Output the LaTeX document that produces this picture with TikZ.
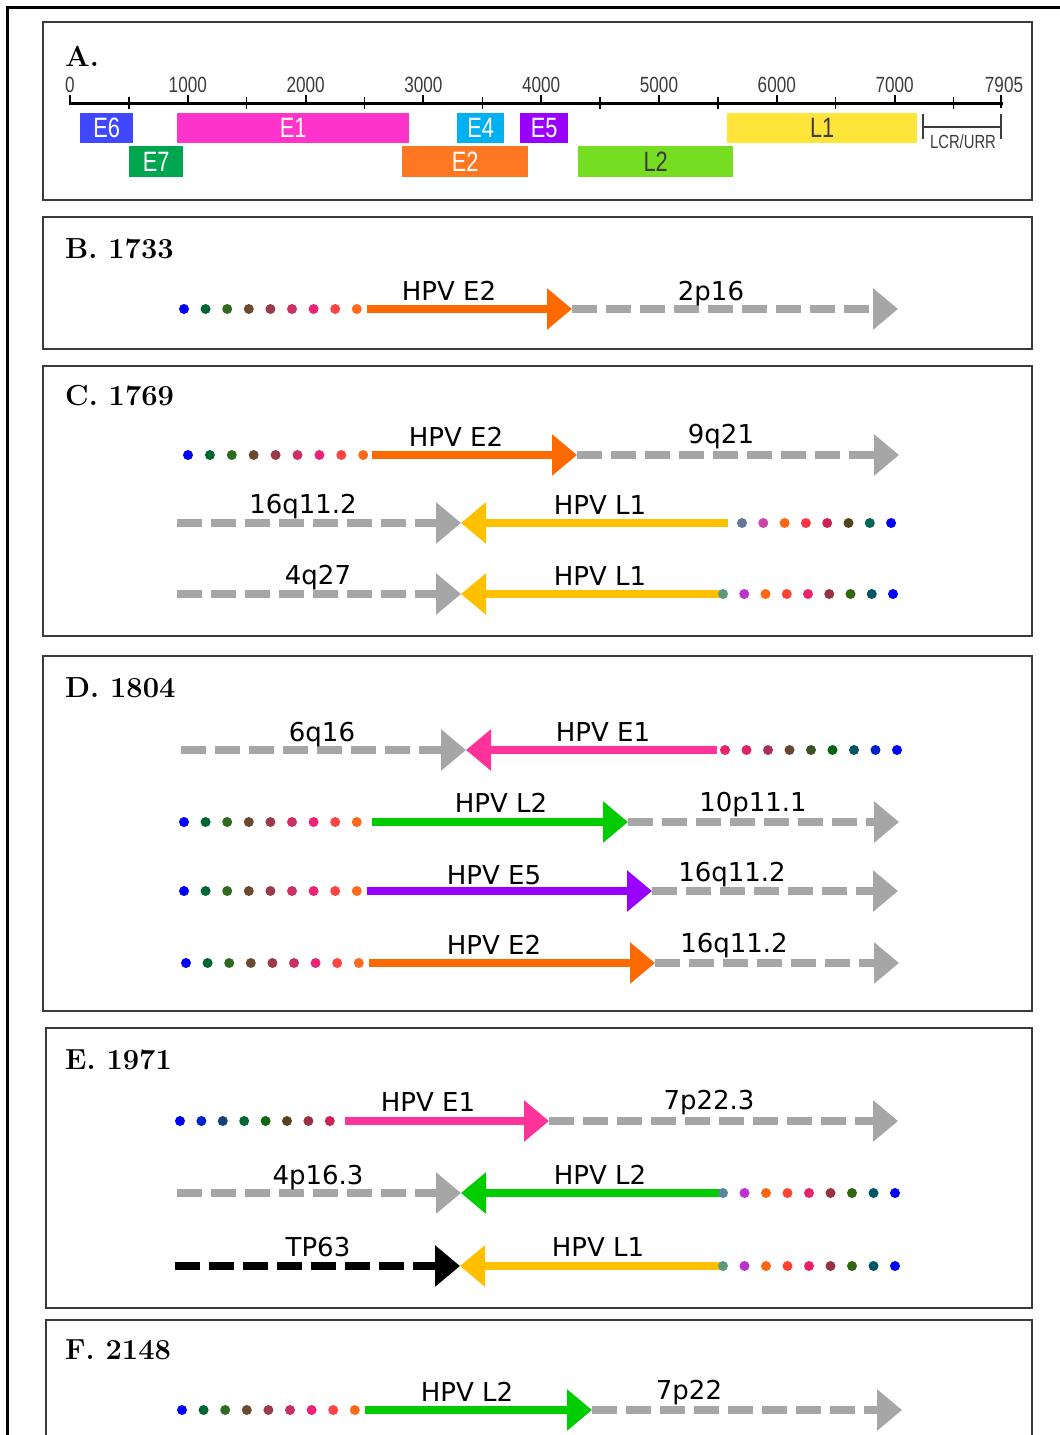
\documentclass[tikz,border=0pt]{standalone}
\usepackage{fontspec}
\usetikzlibrary{arrows.meta}
\newfontfamily\labfont{DejaVu Sans}
\newfontfamily\narrowfont[FakeStretch=0.78]{Liberation Sans}

% track colours
\definecolor{panelgray}{HTML}{3A3A3A}
\definecolor{humgray}{HTML}{A6A6A6}
\definecolor{hpvorange}{HTML}{FF6A00}
\definecolor{hpvyellow}{HTML}{FFC000}
\definecolor{hpvgreen}{HTML}{00CC00}
\definecolor{hpvpink}{HTML}{FF3399}
\definecolor{hpvpurple}{HTML}{9900FF}
% genome map colours
\definecolor{gE6}{HTML}{4048FF}
\definecolor{gE7}{HTML}{00A550}
\definecolor{gE1}{HTML}{FF33CC}
\definecolor{gE2}{HTML}{FF7722}
\definecolor{gE4}{HTML}{00B0F0}
\definecolor{gE5}{HTML}{9900FF}
\definecolor{gL1}{HTML}{FFE43A}
\definecolor{gL2}{HTML}{77DD22}
\definecolor{axgray}{HTML}{3C3C3C}

\tikzset{
  panel/.style={draw=panelgray, line width=2pt},
  title/.style={font=\fontsize{29}{33}\selectfont\bfseries, anchor=base west, inner sep=0pt},
  lbl/.style={font=\labfont\fontsize{26}{30}\selectfont, anchor=base, inner sep=0pt},
  headtip/.style={-{Triangle[length=25pt,width=40pt]}},
  vir/.style={line width=8pt, headtip},
  hum/.style={line width=8pt, draw=humgray, dash pattern=on 25pt off 9pt, headtip},
  tp/.style={line width=8pt, draw=black, dash pattern=on 25pt off 9pt, headtip},
  gene/.style={anchor=north west, inner sep=0pt, font=\narrowfont\fontsize{28}{30}\selectfont, text=white},
  axlbl/.style={anchor=base, inner sep=0pt, font=\narrowfont\fontsize{22}{26}\selectfont, text=axgray},
}

% a row of junction dots: y, first x, spacing, list of HTML colours
\newcommand{\dotrow}[4]{%
  \edef\dotlist{#4}%
  \foreach \c [count=\i from 0] in \dotlist {%
    \definecolor{dotc}{HTML}{\c}%
    \fill[dotc] ({#2+\i*#3},#1) circle[radius=5pt];%
  }}
\newcommand{\leftdots}{0000FF,006633,2F6B1F,6B4A2F,9B3A4A,CC2E66,EE2277,FF4444,FF6A1A}
\newcommand{\rightdots}{5A9A7A,BB33CC,FF6611,FF4433,EE2266,993344,336611,005566,0000FF}

\begin{document}
\begin{tikzpicture}[x=1pt,y=-1pt]
\useasboundingbox (0,0) rectangle (1060,1435);
\fill[white] (0,0) rectangle (1060,1435);

% outer frame
\draw[line width=3pt] (7,1440) -- (7,7) -- (1065,7);

% ---------- A: genome map ----------
\draw[panel] (43,22) rectangle (1032,200);
\node[title] (tA) at (65,66) {A.};
\coordinate (ax0) at (70,103);
\coordinate (ax1) at (1001,103);
\draw[line width=3pt, line cap=rect] (ax0) -- (ax1);
\foreach \v [count=\i] in {0,1000,2000,3000,4000,5000,6000,7000} {
  \draw[line width=2pt] ({70+\v*0.1178},95) -- ({70+\v*0.1178},104);
  \node[axlbl] (tick\i) at ({70+\v*0.1178},92) {\v};
}
\foreach \v in {500,1500,2500,3500,4500,5500,6500,7500}
  \draw[line width=1.5pt] ({70+\v*0.1178},97) -- ({70+\v*0.1178},109);
\draw[line width=2pt] (1001,95) -- (1001,108);
\node[axlbl] (tick9) at (1004,92) {7905};

\node[gene, fill=gE6, minimum width=53pt, minimum height=30pt] (e6) at (80,113) {E6};
\node[gene, fill=gE1, minimum width=232pt, minimum height=30pt] (e1) at (177,113) {E1};
\node[gene, fill=gE4, minimum width=47pt, minimum height=30pt] (e4) at (457,113) {E4};
\node[gene, fill=gE5, minimum width=48pt, minimum height=30pt] (e5) at (520,113) {E5};
\node[gene, fill=gL1, text=axgray, minimum width=190pt, minimum height=30pt] (l1) at (727,113) {L1};
\node[gene, fill=gE7, minimum width=54pt, minimum height=31pt] (e7) at (129,146) {E7};
\node[gene, fill=gE2, minimum width=126pt, minimum height=31pt] (e2) at (402,146) {E2};
\node[gene, fill=gL2, text=axgray, minimum width=155pt, minimum height=31pt] (l2) at (578,146) {L2};

\coordinate (lcrA) at (923,127);
\coordinate (lcrB) at (1001,127);
\draw[line width=2.5pt, axgray] (lcrA) -- (lcrB);
\draw[line width=2.5pt, axgray] (923,114) -- (923,139) (1001,114) -- (1001,139);
\node[axlbl, font=\narrowfont\fontsize{19}{22}\selectfont] (lcr) at (963,148) {LCR/URR};

% ---------- B ----------
\draw[panel] (43,217) rectangle (1032,349);
\node[title] (tB) at (65,258) {B. 1733};
\coordinate (b1s) at (367,309); \coordinate (b1j) at (572,309); \coordinate (b1e) at (898,309);
\draw[hum] (b1j) -- (b1e);
\draw[vir, hpvorange] (b1s) -- (b1j);
\dotrow{309}{184}{21.6}{\leftdots}
\node[lbl] (b1v) at (449,300) {HPV E2};
\node[lbl] (b1h) at (711,300) {2p16};

% ---------- C ----------
\draw[panel] (43,366) rectangle (1032,636);
\node[title] (tC) at (65,405) {C. 1769};
% row 1
\coordinate (c1s) at (372,455); \coordinate (c1j) at (577,455); \coordinate (c1e) at (899,455);
\draw[hum] (c1j) -- (c1e);
\draw[vir, hpvorange] (c1s) -- (c1j);
\dotrow{455}{188}{21.9}{\leftdots}
\node[lbl] (c1v) at (456,446) {HPV E2};
\node[lbl] (c1h) at (721,443) {9q21};
% row 2
\coordinate (c2s) at (177,523); \coordinate (c2j) at (461,523); \coordinate (c2e) at (728,523);
\draw[hum] (c2s) -- (c2j);
\draw[vir, hpvyellow] (c2e) -- (c2j);
\dotrow{523}{742}{21.3}{667799,CC44AA,FF6611,FF3344,CC2255,554422,006655,0000FF}
\node[lbl] (c2h) at (303,513) {16q11.2};
\node[lbl] (c2v) at (600,514) {HPV L1};
% row 3
\coordinate (c3s) at (177,594); \coordinate (c3j) at (461,594); \coordinate (c3e) at (722,594);
\draw[hum] (c3s) -- (c3j);
\draw[vir, hpvyellow] (c3e) -- (c3j);
\dotrow{594}{723}{21.25}{\rightdots}
\node[lbl] (c3h) at (318,584) {4q27};
\node[lbl] (c3v) at (600,585) {HPV L1};

% ---------- D ----------
\draw[panel] (43,656) rectangle (1032,1011);
\node[title] (tD) at (65,697) {D. 1804};
% row 1
\coordinate (d1s) at (181,750); \coordinate (d1j) at (466,750); \coordinate (d1e) at (717,750);
\draw[hum] (d1s) -- (d1j);
\draw[vir, hpvpink] (d1e) -- (d1j);
\dotrow{750}{725}{21.5}{EE2266,DD2266,AA3355,6B4433,3D5522,006611,005566,0022CC,0000FF}
\node[lbl] (d1h) at (322,741) {6q16};
\node[lbl] (d1v) at (603,741) {HPV E1};
% row 2
\coordinate (d2s) at (372,822); \coordinate (d2j) at (628,822); \coordinate (d2e) at (899,822);
\draw[hum] (d2j) -- (d2e);
\draw[vir, hpvgreen] (d2s) -- (d2j);
\dotrow{822}{184}{21.6}{\leftdots}
\node[lbl] (d2v) at (501,812) {HPV L2};
\node[lbl] (d2h) at (753,811) {10p11.1};
% row 3
\coordinate (d3s) at (367,891); \coordinate (d3j) at (652,891); \coordinate (d3e) at (898,891);
\draw[hum] (d3j) -- (d3e);
\draw[vir, hpvpurple] (d3s) -- (d3j);
\dotrow{891}{184}{21.6}{\leftdots}
\node[lbl] (d3v) at (494,884) {HPV E5};
\node[lbl] (d3h) at (732,881) {16q11.2};
% row 4
\coordinate (d4s) at (369,963); \coordinate (d4j) at (655,963); \coordinate (d4e) at (899,963);
\draw[hum] (d4j) -- (d4e);
\draw[vir, hpvorange] (d4s) -- (d4j);
\dotrow{963}{186}{21.6}{\leftdots}
\node[lbl] (d4v) at (494,954) {HPV E2};
\node[lbl] (d4h) at (734,952) {16q11.2};

% ---------- E ----------
\draw[panel] (46,1028) rectangle (1032,1308);
\node[title] (tE) at (65,1069) {E. 1971};
% row 1
\coordinate (e1s) at (345,1121); \coordinate (e1j) at (549,1121); \coordinate (e1e) at (898,1121);
\draw[hum] (e1j) -- (e1e);
\draw[vir, hpvpink] (e1s) -- (e1j);
\dotrow{1121}{180}{21.4}{0000FF,0022CC,114477,006633,116611,554422,993344,CC2255}
\node[lbl] (e1v) at (428,1111) {HPV E1};
\node[lbl] (e1h) at (709,1109) {7p22.3};
% row 2
\coordinate (e2s) at (177,1193); \coordinate (e2j) at (461,1193); \coordinate (e2e) at (723,1193);
\draw[hum] (e2s) -- (e2j);
\draw[vir, hpvgreen] (e2e) -- (e2j);
\dotrow{1193}{723}{21.5}{558899,BB33CC,FF6611,FF4433,EE2266,993344,336611,005566,0000FF}
\node[lbl] (e2h) at (318,1184) {4p16.3};
\node[lbl] (e2v) at (600,1184) {HPV L2};
% row 3
\coordinate (e3s) at (175,1266); \coordinate (e3j) at (460,1266); \coordinate (e3e) at (722,1266);
\draw[tp] (e3s) -- (e3j);
\draw[vir, hpvyellow] (e3e) -- (e3j);
\dotrow{1266}{723}{21.5}{5A9A7A,BB33CC,FF6611,FF4433,EE2266,993344,336611,005566,0000FF}
\node[lbl] (e3h) at (318,1256) {TP63};
\node[lbl] (e3v) at (598,1256) {HPV L1};

% ---------- F ----------
\draw[panel] (46,1445) -- (46,1320) -- (1032,1320) -- (1032,1445);
\node[title] (tF) at (65,1359) {F. 2148};
\coordinate (f1s) at (365,1410); \coordinate (f1j) at (592,1410); \coordinate (f1e) at (902,1410);
\draw[hum] (f1j) -- (f1e);
\draw[vir, hpvgreen] (f1s) -- (f1j);
\dotrow{1410}{182}{21.6}{\leftdots}
\node[lbl] (f1v) at (467,1401) {HPV L2};
\node[lbl] (f1h) at (689,1399) {7p22};
\end{tikzpicture}
\end{document}
